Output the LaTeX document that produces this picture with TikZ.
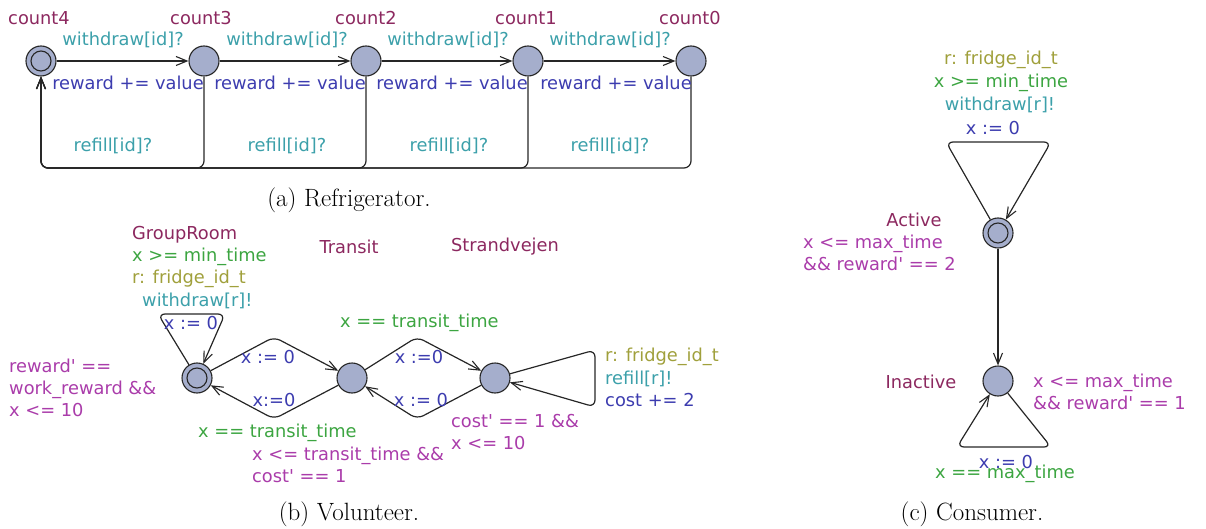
\documentclass[tikz,border=0pt]{standalone}
\usepackage{fontspec}
\usetikzlibrary{arrows.meta}
\newfontfamily\uppfont{DejaVu Sans}
\definecolor{locname}{RGB}{140,40,95}
\definecolor{guardc}{RGB}{60,165,65}
\definecolor{syncc}{RGB}{60,160,170}
\definecolor{assignc}{RGB}{60,60,175}
\definecolor{selectc}{RGB}{160,160,60}
\definecolor{invc}{RGB}{170,60,170}
\definecolor{locfill}{RGB}{165,174,204}
\tikzset{
  loc/.style={circle, draw=black!85, line width=1.1pt, fill=locfill, minimum size=30pt, inner sep=0pt},
  initring/.style={draw=black!85, line width=1.1pt},
  trans/.style={draw=black!85, line width=1.2pt, -{Straight Barb[length=11pt,width=9pt,line width=1.1pt]}, rounded corners=7pt},
  lbl/.style={font=\uppfont\fontsize{17.8}{22}\selectfont, inner sep=0pt, align=left},
  nm/.style={lbl, text=locname},
  grd/.style={lbl, text=guardc},
  syn/.style={lbl, text=syncc},
  asg/.style={lbl, text=assignc},
  sel/.style={lbl, text=selectc},
  inv/.style={lbl, text=invc},
  capt/.style={font=\rmfamily\fontsize{25}{30}\selectfont, inner sep=0pt}
}
\begin{document}
\begin{tikzpicture}[x=1pt,y=-1pt]
\useasboundingbox (0,0) rectangle (1206,529);

% ---------------- Refrigerator ----------------
\node[loc] (c4) at (41,61) {};
\draw[initring] (c4.center) circle[radius=10pt];
\node[loc] (c3) at (204,61) {};
\node[loc] (c2) at (366,61) {};
\node[loc] (c1) at (528,61) {};
\node[loc] (c0) at (691,61) {};

\node[nm] (n4) at (39,18) {count4};
\node[nm] (n3) at (201,18) {count3};
\node[nm] (n2) at (366,18) {count2};
\node[nm] (n1) at (526,18) {count1};
\node[nm] (n0) at (690,18) {count0};

\coordinate (rb) at (0,168);
\draw[trans] (c4) -- (c3);
\draw[trans] (c3) -- (c2);
\draw[trans] (c2) -- (c1);
\draw[trans] (c1) -- (c0);
\foreach \s in {c3,c2,c1,c0}
  \draw[trans] (\s) |- (c4 |- rb) -- (c4);

\node[syn] (w43) at (123,40) {withdraw[id]?};
\node[syn] (w32) at (287,40) {withdraw[id]?};
\node[syn] (w21) at (448,40) {withdraw[id]?};
\node[syn] (w10) at (610,40) {withdraw[id]?};
\node[asg] (r43) at (128,83) {reward += value};
\node[asg] (r32) at (290,83) {reward += value};
\node[asg] (r21) at (452,83) {reward += value};
\node[asg] (r10) at (616,83) {reward += value};
\node[syn] (f3) at (113,146) {refill[id]?};
\node[syn] (f2) at (287,146) {refill[id]?};
\node[syn] (f1) at (449,146) {refill[id]?};
\node[syn] (f0) at (610,146) {refill[id]?};

\node[capt] (capa) at (349,200) {(a) Refrigerator.};

% ---------------- Volunteer ----------------
\node[loc] (g) at (197,378) {};
\draw[initring] (g.center) circle[radius=10pt];
\node[loc] (t) at (352,378) {};
\node[loc] (s) at (495,378) {};

\node[nm, anchor=west] (gname) at (132,235) {GroupRoom};
\node[nm] (tname) at (349,247) {Transit};
\node[nm] (sname) at (505,247) {Strandvejen};

% self-loop on GroupRoom
\coordinate (gl1) at (158,314);
\coordinate (gl2) at (225,314);
\draw[trans] (g) -- (gl1) -- (gl2) -- (g);
\node[grd, anchor=west] (gg) at (132,257) {x >= min\_time};
\node[sel, anchor=west] (gs) at (132,279) {r: fridge\_id\_t};
\node[syn, anchor=west] (gy) at (142,301) {withdraw[r]!};
\node[asg] (ga) at (191,323) {x := 0};

\node[inv, anchor=north west] (ginv) at (9,359) {reward' ==\\work\_reward \&\&\\x <= 10};

% GroupRoom <-> Transit
\coordinate (gt1) at (274,337);
\coordinate (tg1) at (274,419);
\draw[trans] (g) -- (gt1) -- (t);
\draw[trans] (t) -- (tg1) -- (g);
\node[asg] (gta) at (268,357) {x := 0};
\node[asg] (tga) at (274,400) {x:=0};
\node[grd, anchor=west] (tgg) at (198,433) {x == transit\_time};
\node[inv, anchor=north west] (tinv) at (252,447) {x <= transit\_time \&\&\\cost' == 1};

% Transit <-> Strandvejen
\coordinate (ts1) at (417,337);
\coordinate (st1) at (417,419);
\draw[trans] (t) -- (ts1) -- (s);
\draw[trans] (s) -- (st1) -- (t);
\node[grd, anchor=west] (tsg) at (340,323) {x == transit\_time};
\node[asg] (tsa) at (419,357) {x :=0};
\node[asg] (sta) at (421,400) {x := 0};

% self-loop on Strandvejen
\coordinate (sl1) at (595,350);
\coordinate (sl2) at (595,407);
\draw[trans] (s) -- (sl1) -- (sl2) -- (s);
\node[sel, anchor=west] (ss) at (605,357) {r: fridge\_id\_t};
\node[syn, anchor=west] (sy) at (605,379) {refill[r]!};
\node[asg, anchor=west] (sa) at (605,400) {cost += 2};
\node[inv, anchor=north west] (sinv) at (451,414) {cost' == 1 \&\&\\x <= 10};

\node[capt] (capb) at (349,514) {(b) Volunteer.};

% ---------------- Consumer ----------------
\node[loc] (a) at (998,233) {};
\draw[initring] (a.center) circle[radius=10pt];
\node[loc] (i) at (998,381) {};

\draw[trans] (a) -- (i);

\coordinate (al1) at (946,142);
\coordinate (al2) at (1051,142);
\draw[trans] (a) -- (al1) -- (al2) -- (a);
\node[sel] (as) at (1001,60) {r: fridge\_id\_t};
\node[grd] (ag) at (1001,83) {x >= min\_time};
\node[syn] (ay) at (1000,105) {withdraw[r]!};
\node[asg] (aa) at (993,128) {x := 0};

\node[nm] (aname) at (914,220) {Active};
\node[inv, anchor=north west] (ainv) at (803,235) {x <= max\_time\\\&\& reward' == 2};

\coordinate (il1) at (1051,447);
\coordinate (il2) at (957,447);
\draw[trans] (i) -- (il1) -- (il2) -- (i);
\node[asg] (ia) at (1006,462) {x := 0};
\node[grd] (ig) at (1005,474) {x == max\_time};

\node[nm] (iname) at (921,382) {Inactive};
\node[inv, anchor=north west] (iinv) at (1033,374) {x <= max\_time\\\&\& reward' == 1};

\node[capt] (capc) at (972,514) {(c) Consumer.};
\end{tikzpicture}
\end{document}
